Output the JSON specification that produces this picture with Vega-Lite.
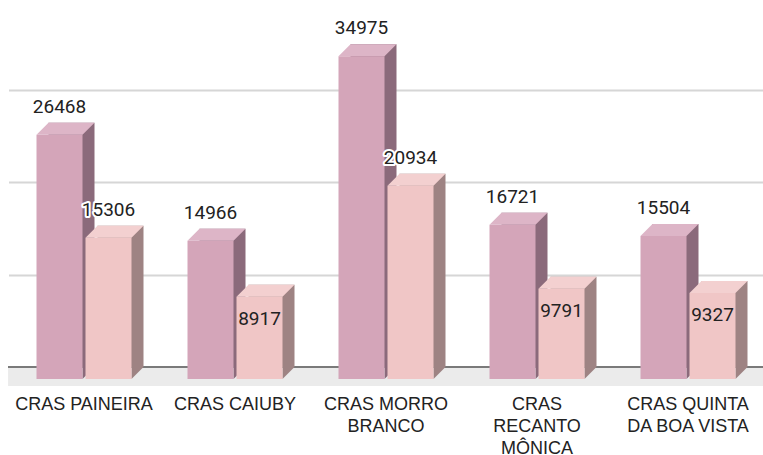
{
  "$schema": "https://vega.github.io/schema/vega-lite/v6.json",
  "width": 755,
  "height": 367,
  "autosize": {"type": "none"},
  "padding": {"left": 8.5, "top": 0, "right": 0, "bottom": 88},
  "background": "white",
  "config": {"view": {"stroke": null}},
  "data": {
    "values": [
      {"cras": "CRAS PAINEIRA", "serie": "Série 1", "valor": 26468},
      {"cras": "CRAS PAINEIRA", "serie": "Série 2", "valor": 15306},
      {"cras": "CRAS CAIUBY", "serie": "Série 1", "valor": 14966},
      {"cras": "CRAS CAIUBY", "serie": "Série 2", "valor": 8917},
      {"cras": "CRAS MORRO BRANCO", "serie": "Série 1", "valor": 34975},
      {"cras": "CRAS MORRO BRANCO", "serie": "Série 2", "valor": 20934},
      {"cras": "CRAS RECANTO MÔNICA", "serie": "Série 1", "valor": 16721},
      {"cras": "CRAS RECANTO MÔNICA", "serie": "Série 2", "valor": 9791},
      {"cras": "CRAS QUINTA DA BOA VISTA", "serie": "Série 1", "valor": 15504},
      {"cras": "CRAS QUINTA DA BOA VISTA", "serie": "Série 2", "valor": 9327}
    ]
  },
  "resolve": {"scale": {"color": "independent", "xOffset": "independent"}},
  "layer": [
    {
      "layer": [
        {
          "mark": {"type": "rule", "color": "#ebebeb", "strokeWidth": 19, "yOffset": 9.5},
          "encoding": {
            "y": {"datum": 0, "type": "quantitative", "scale": {"domain": [0, 39760], "nice": false, "zero": true},
              "axis": {"values": [10000, 20000, 30000], "grid": true, "gridColor": "#d6d6d6", "gridWidth": 2, "labels": false, "ticks": false, "domain": false, "title": null}}
          }
        },
        {
          "mark": {"type": "rule", "color": "#7a7a7a", "strokeWidth": 2},
          "encoding": {"y": {"datum": 0, "type": "quantitative"}}
        }
      ]
    },
    {
      "mark": {"type": "bar"},
      "encoding": {
        "x": {"field": "cras", "type": "nominal", "sort": null, "scale": {"paddingInner": 0, "paddingOuter": 0},
          "axis": {"labelAngle": 0, "domain": false, "ticks": false, "title": null, "labelFont": "Liberation Sans", "labelFontSize": 18, "labelColor": "#222222", "labelPadding": 28, "labelLineHeight": 22, "labelLimit": 200,
            "labelExpr": "datum.value == 'CRAS MORRO BRANCO' ? ['CRAS MORRO', 'BRANCO'] : datum.value == 'CRAS RECANTO MÔNICA' ? ['CRAS', 'RECANTO', 'MÔNICA'] : datum.value == 'CRAS QUINTA DA BOA VISTA' ? ['CRAS QUINTA', 'DA BOA VISTA'] : datum.value"}},
        "xOffset": {"field": "serie", "type": "nominal", "scale": {"paddingInner": 0.0612, "paddingOuter": 0.5714, "align": 0.7143}},
        "y": {"field": "valor", "type": "quantitative", "stack": null},
        "color": {"field": "serie", "type": "nominal", "scale": {"domain": ["Série 1", "Série 2"], "range": ["#8b6a7b", "#9e8383"]}, "legend": null}
      }
    },
    {
      "resolve": {"scale": {"color": "independent", "xOffset": "shared"}},
      "layer": [
        {
          "mark": {"type": "point", "shape": "M23,0L23,12L35,0Z", "size": 4, "filled": true, "opacity": 1, "strokeWidth": 0},
          "encoding": {
            "x": {"field": "cras", "type": "nominal", "sort": null},
            "xOffset": {"field": "serie", "type": "nominal"},
            "y": {"datum": 0, "type": "quantitative"},
            "color": {"field": "serie", "type": "nominal", "scale": {"domain": ["Série 1", "Série 2"], "range": ["#8b6a7b", "#9e8383"]}, "legend": null}
          }
        },
        {
          "mark": {"type": "bar", "yOffset": 12, "y2Offset": 12},
          "encoding": {
            "x": {"field": "cras", "type": "nominal", "sort": null},
            "xOffset": {"field": "serie", "type": "nominal", "scale": {"paddingInner": 0.0612, "paddingOuter": 0.5714}},
            "y": {"field": "valor", "type": "quantitative", "stack": null},
            "y2": {"datum": 0},
            "color": {"field": "serie", "type": "nominal", "scale": {"domain": ["Série 1", "Série 2"], "range": ["#d4a5b9", "#f0c6c6"]}, "legend": null}
          }
        },
        {
          "mark": {"type": "point", "shape": "M-23,12L23,12L35,0L-11,0Z", "size": 4, "filled": true, "opacity": 1, "strokeWidth": 0},
          "encoding": {
            "x": {"field": "cras", "type": "nominal", "sort": null},
            "xOffset": {"field": "serie", "type": "nominal"},
            "y": {"field": "valor", "type": "quantitative"},
            "color": {"field": "serie", "type": "nominal", "scale": {"domain": ["Série 1", "Série 2"], "range": ["#ddb5c7", "#f3d0d0"]}, "legend": null}
          }
        },
        {
          "transform": [{"filter": "datum.valor >= 10000"}],
          "mark": {"type": "text", "font": "Roboto", "fontSize": 19, "baseline": "alphabetic", "dy": -10, "fill": "white", "stroke": "white", "strokeWidth": 4, "strokeJoin": "round"},
          "encoding": {
            "x": {"field": "cras", "type": "nominal", "sort": null},
            "xOffset": {"field": "serie", "type": "nominal"},
            "y": {"field": "valor", "type": "quantitative"},
            "text": {"field": "valor", "type": "quantitative", "format": "d"}
          }
        },
        {
          "transform": [{"filter": "datum.valor >= 10000"}],
          "mark": {"type": "text", "font": "Roboto", "fontSize": 19, "baseline": "alphabetic", "dy": -10, "fill": "#222222"},
          "encoding": {
            "x": {"field": "cras", "type": "nominal", "sort": null},
            "xOffset": {"field": "serie", "type": "nominal"},
            "y": {"field": "valor", "type": "quantitative"},
            "text": {"field": "valor", "type": "quantitative", "format": "d"}
          }
        },
        {
          "transform": [{"filter": "datum.valor < 10000"}],
          "mark": {"type": "text", "font": "Roboto", "fontSize": 19, "baseline": "alphabetic", "dy": 40, "fill": "#222222"},
          "encoding": {
            "x": {"field": "cras", "type": "nominal", "sort": null},
            "xOffset": {"field": "serie", "type": "nominal"},
            "y": {"field": "valor", "type": "quantitative"},
            "text": {"field": "valor", "type": "quantitative", "format": "d"}
          }
        }
      ]
    }
  ]
}
